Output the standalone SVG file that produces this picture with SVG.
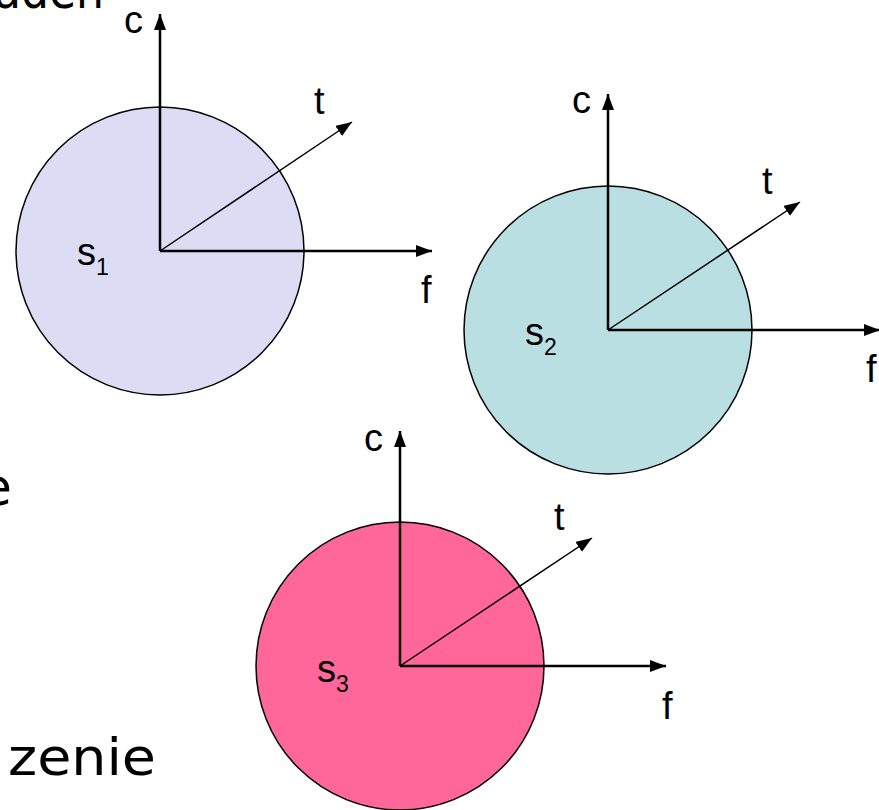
<svg xmlns="http://www.w3.org/2000/svg" width="879" height="810" viewBox="0 0 879 810">
<defs>
<marker id="ah" viewBox="0 0 16 12" refX="16" refY="6" markerWidth="16" markerHeight="12" markerUnits="userSpaceOnUse" orient="auto">
<path d="M0,0 L16,6 L0,12 Z" fill="#000"/>
</marker>
<style>
.ax{stroke:#000;stroke-width:2.5;fill:none;marker-end:url(#ah)}
.tx{stroke:#000;stroke-width:1.5;fill:none;marker-end:url(#ah)}
.circ{stroke:#000;stroke-width:1.5}
.lbl{font-family:"Liberation Sans",Arial,sans-serif;font-size:38px;fill:#000}
.sub{font-size:23px}
.bg{font-family:"DejaVu Sans","Liberation Sans",sans-serif;font-size:52px;fill:#000}
</style>
</defs>
<rect width="879" height="810" fill="#fff"/>
<g id="bgtext">
<text class="bg" x="-6" y="8" textLength="110" lengthAdjust="spacingAndGlyphs">aden</text>
<text class="bg" x="-20" y="505">e</text>
<text class="bg" x="8" y="775" textLength="148" lengthAdjust="spacingAndGlyphs">zenie</text>
</g>
<g id="s1">
<circle class="circ" cx="160" cy="251" r="144" fill="#dcdcf4"/>
<text class="lbl" x="77" y="265">s<tspan class="sub" dy="10">1</tspan></text>
</g>
<g id="s2">
<circle class="circ" cx="608" cy="330" r="144" fill="#b9dfe2"/>
<text class="lbl" x="525" y="345">s<tspan class="sub" dy="10">2</tspan></text>
</g>
<g id="s3">
<circle class="circ" cx="400" cy="666" r="144" fill="#ff6699"/>
<text class="lbl" x="317" y="682">s<tspan class="sub" dy="10">3</tspan></text>
</g>
<g id="connectors">
<line class="ax" x1="160" y1="251" x2="160" y2="14"/>
<line class="ax" x1="160" y1="251" x2="432" y2="251"/>
<line class="tx" x1="160" y1="251" x2="352" y2="122"/>
<line class="ax" x1="608" y1="330" x2="608" y2="94"/>
<line class="ax" x1="608" y1="330" x2="880" y2="330"/>
<line class="tx" x1="608" y1="330" x2="800" y2="202"/>
<line class="ax" x1="400" y1="666" x2="400" y2="431"/>
<line class="ax" x1="400" y1="666" x2="666" y2="666"/>
<line class="tx" x1="400" y1="666" x2="592" y2="538"/>
</g>
<g id="labels">
<text class="lbl" x="124" y="33">c</text>
<text class="lbl" x="421" y="303">f</text>
<text class="lbl" x="314" y="114">t</text>
<text class="lbl" x="572" y="113">c</text>
<text class="lbl" x="866" y="382">f</text>
<text class="lbl" x="762" y="194">t</text>
<text class="lbl" x="364" y="451">c</text>
<text class="lbl" x="662" y="719">f</text>
<text class="lbl" x="554" y="530">t</text>
</g>
</svg>
